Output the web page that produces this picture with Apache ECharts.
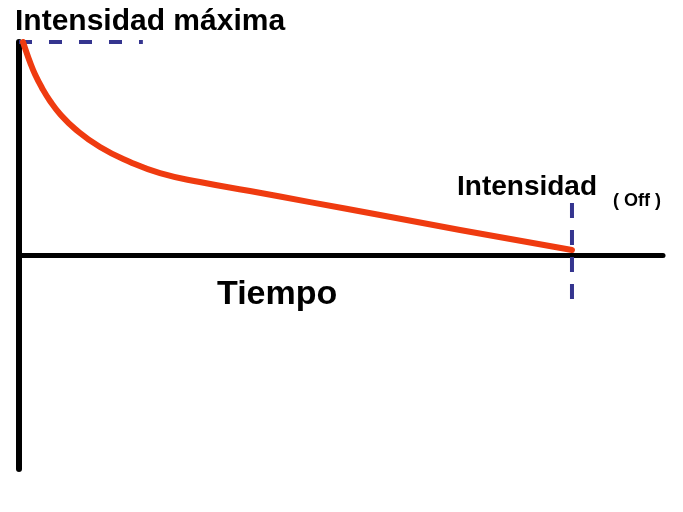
<!DOCTYPE html>
<html>
<head>
<meta charset="utf-8">
<script src="https://cdn.jsdelivr.net/npm/echarts@6/dist/echarts.min.js"></script>
<style>html,body{margin:0;padding:0;background:#fff;}#c{width:683px;height:512px;}</style>
</head>
<body>
<div id="c"></div>
<script>
// Data (time in % of switch-off time, intensity in % of maximum)
var timeVals = [0.72, 1.27, 1.99, 2.89, 4.16, 5.61, 7.41, 10.13, 14.65, 20.07, 25.5, 32.7, 41.77, 52.62, 65.28, 79.75, 100];
var intensity = [100, 95.8, 90.6, 84.9, 78.5, 72.4, 66.3, 59.3, 50.8, 43.8, 38.6, 34.4, 30.2, 25.0, 18.97, 11.94, 2.58];
var maxLineTime = [0, 22.4];
var maxLineValue = [100, 100];
var offLineTime = [100, 100];
var offLineValue = [24.6, -21.0];
var labels = {
  max: 'Intensidad máxima',
  off: 'Intensidad',
  offSub: '( Off )',
  time: 'Tiempo'
};

var chart = echarts.init(document.getElementById('c'), null, {renderer: 'canvas'});
var curve = timeVals.map(function (t, i) { return [t, intensity[i]]; });
var maxLine = maxLineTime.map(function (t, i) { return [t, maxLineValue[i]]; });
var offLine = offLineTime.map(function (t, i) { return [t, offLineValue[i]]; });
var font = 'Liberation Sans, Arial, sans-serif';

chart.setOption({
  animation: false,
  backgroundColor: '#ffffff',
  grid: {left: 19, right: 20, top: 42, bottom: 43},
  xAxis: {
    type: 'value', min: 0, max: 116.46,
    axisLine: {show: true, onZero: true, lineStyle: {color: '#000', width: 5}},
    axisTick: {show: false}, axisLabel: {show: false}, splitLine: {show: false}
  },
  yAxis: {
    type: 'value', min: -100, max: 100,
    axisLine: {show: true, onZero: false, lineStyle: {color: '#000', width: 6}},
    axisTick: {show: false}, axisLabel: {show: false}, splitLine: {show: false}
  },
  series: [
    {
      type: 'line', data: maxLine, symbol: 'none', z: 3,
      lineStyle: {color: '#35358f', width: 4, type: [13, 17]}
    },
    {
      type: 'line', data: offLine, symbol: 'none', z: 3,
      lineStyle: {color: '#35358f', width: 4, type: [15, 12]}
    },
    {
      type: 'line', data: curve, symbol: 'none', smooth: 0.5, z: 4,
      lineStyle: {color: '#ef3b10', width: 6, cap: 'round', join: 'round'}
    }
  ],
  graphic: [
    {type: 'text', left: 15, top: 7, style: {text: labels.max, font: 'bold 30px ' + font, fill: '#000'}},
    {type: 'text', left: 457, top: 173, style: {text: labels.off, font: 'bold 28px ' + font, fill: '#000'}},
    {type: 'text', left: 613, top: 192, style: {text: labels.offSub, font: 'bold 18px ' + font, fill: '#000'}},
    {type: 'text', left: 217, top: 278, style: {text: labels.time, font: 'bold 34px ' + font, fill: '#000'}}
  ]
});
</script>
</body>
</html>
